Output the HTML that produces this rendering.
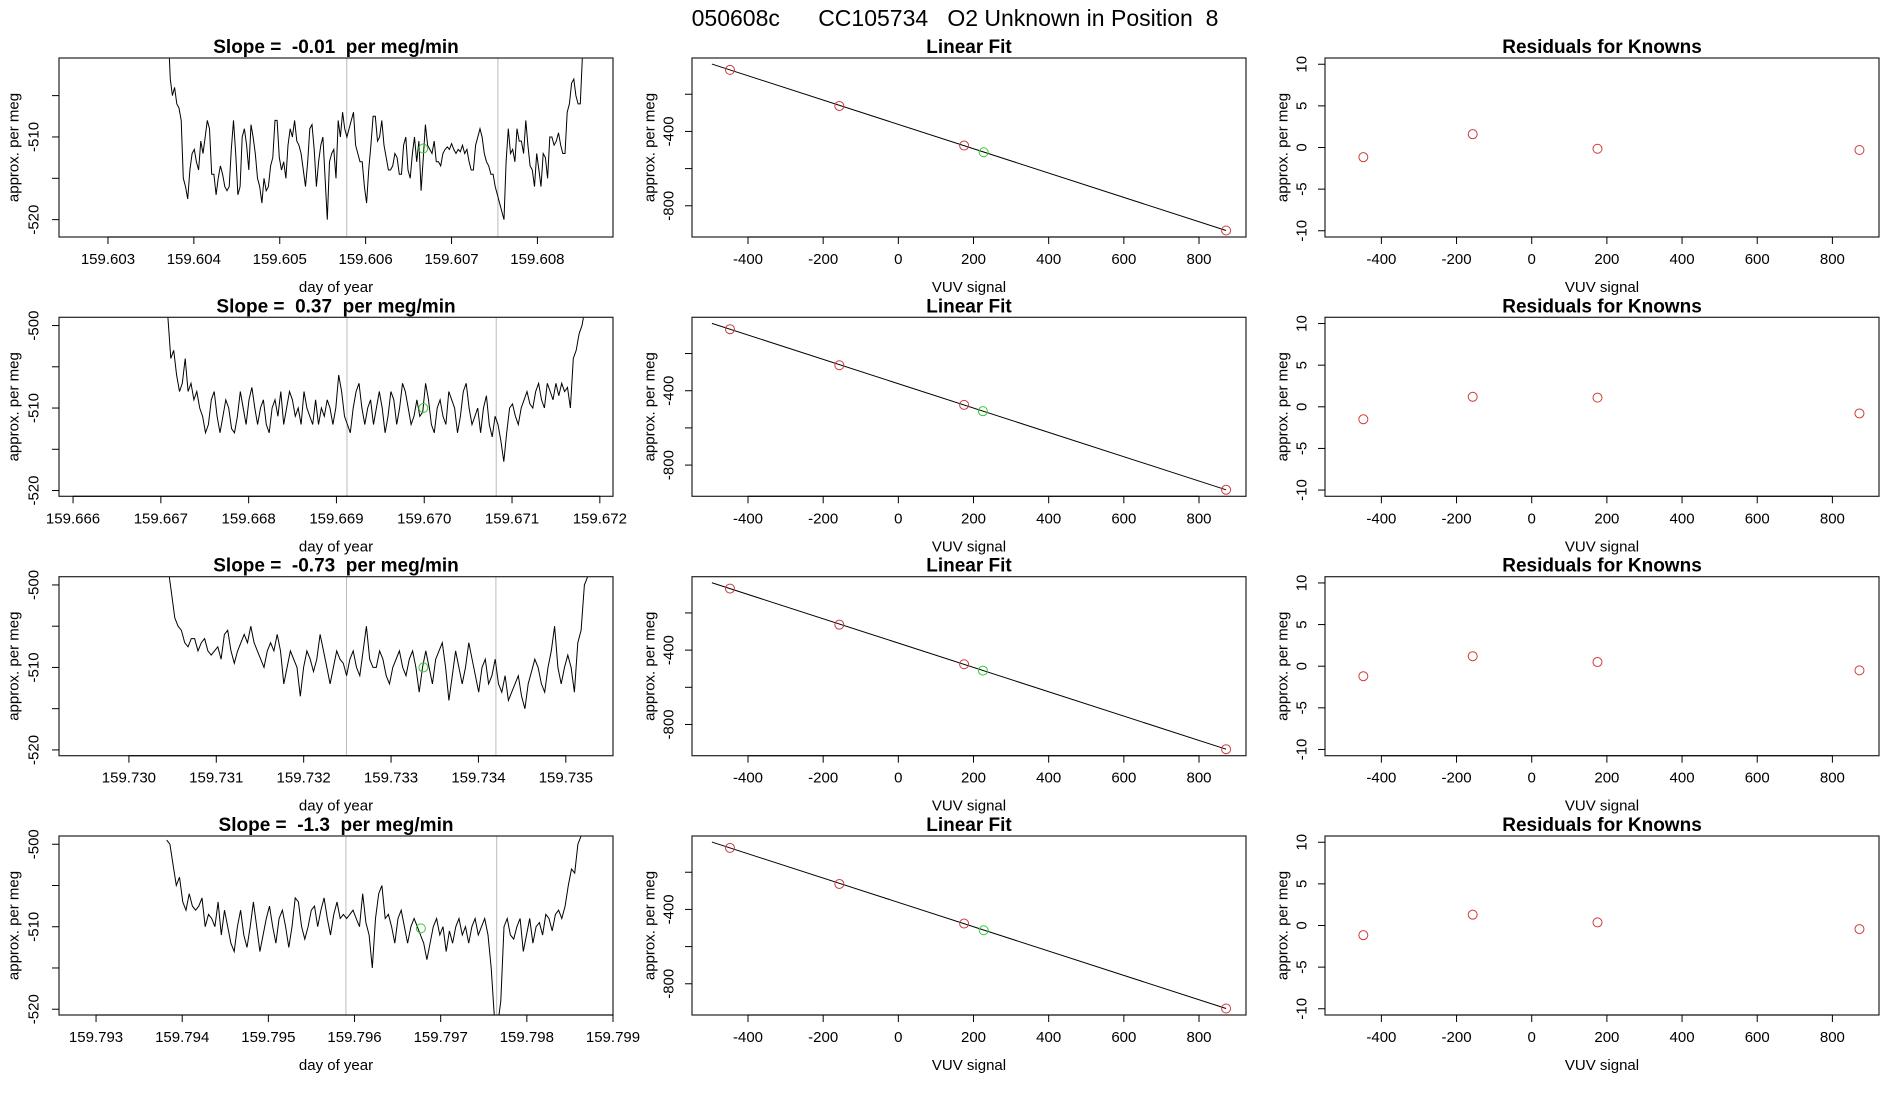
<!DOCTYPE html>
<html><head><meta charset="utf-8">
<style>
html,body{margin:0;padding:0;background:#fff;}
svg{display:block;font-family:"Liberation Sans",sans-serif;}
svg text{white-space:pre;}
</style></head>
<body>
<svg id="chart" width="1900" height="1100" viewBox="0 0 1900 1100" xmlns="http://www.w3.org/2000/svg">
<text x="955" y="26" text-anchor="middle" font-size="23" xml:space="preserve">050608c      CC105734   O2 Unknown in Position  8</text>
</svg>
<script>
// ---- data ----
const slopeLabels = ["-0.01", "0.37", "-0.73", "-1.3"];
const timeStart = [159.6037, 159.66708, 159.73045, 159.79382];
const timeEnd = [159.60855, 159.67183, 159.73525, 159.79863];
const xTickVals = [
  [159.603,159.604,159.605,159.606,159.607,159.608],
  [159.666,159.667,159.668,159.669,159.670,159.671,159.672],
  [159.730,159.731,159.732,159.733,159.734,159.735],
  [159.793,159.794,159.795,159.796,159.797,159.798,159.799]
];
const xMinTime = [159.60243, 159.66584, 159.7292, 159.79257];
const xMaxTime = [159.60888, 159.67215, 159.73554, 159.799];
const yLimTop = [-500.45, -499, -499, -499];
const yLimBot = [-522.1, -520.7, -520.7, -520.7];
const vlineTimes = [[159.60578,159.60754],[159.66912,159.67082],[159.73249,159.73420],[159.7959,159.79765]];
const greenTime = [159.60667, 159.66999, 159.73337, 159.79677];
const greenVal = [-511.4, -510, -510, -510.2];
const series1 = [-497,-503,-505,-504,-506,-506.5,-508,-515,-516,-517.5,-514,-512,-511.5,-513,-514,-510.5,-512,-510,-508,-509,-514.5,-514.5,-517,-515,-513.5,-514.5,-516,-516.5,-516,-511.5,-508,-512,-517,-516,-510,-509,-511,-514,-508.5,-510,-512,-515,-516,-518,-515,-516.5,-516,-513.5,-512.5,-508,-508,-512.5,-514,-513,-515,-511,-509,-510,-508,-510.5,-511,-512,-514,-516,-513,-509,-508.5,-511.5,-516,-513,-511,-510,-515,-520,-513,-512,-511.5,-515,-508,-510,-507,-509,-510,-509,-508,-507,-511,-512,-513,-513,-516,-518,-514,-511,-507.5,-507.5,-510.5,-510,-508,-511,-512.5,-514,-514,-513.5,-512,-512.5,-514.5,-514.5,-511,-510,-514,-515,-512,-510,-513,-510.5,-516.5,-512.5,-508.5,-511,-511.5,-512,-510.5,-513,-513,-513.5,-512,-511.5,-511.2,-511.5,-510.8,-511.5,-512,-511.5,-511.8,-511,-512,-511.5,-513,-514,-514,-511,-510,-509,-510,-512,-513,-513.5,-514.5,-514.5,-516,-517,-518,-519,-520,-513,-509,-512,-511.5,-513,-509,-510.5,-510.5,-512,-508,-511,-513.5,-514,-516,-512,-514,-516,-512,-512.5,-515,-510,-510,-511,-510.5,-509.5,-511,-512,-512,-507,-506,-503.5,-503,-505,-506,-506,-500,-497];
const series2 = [-499,-504,-503,-506,-508,-507,-504,-508,-507,-509,-508,-510,-511,-513,-512,-509,-508,-511,-513,-511,-509,-510,-512.5,-513,-511,-508,-510,-512,-509,-507.5,-510,-512,-510,-509,-512,-513,-510,-509,-511,-508,-512,-510,-508,-509,-511,-510,-512,-508,-510,-511,-512,-509,-512,-510,-511,-509,-510,-512,-510,-506,-508,-511,-512,-513,-510,-508,-507,-510,-512,-510,-509,-512,-510,-508,-510,-513,-511,-508,-509,-512,-510,-507,-508,-510,-512,-511,-509,-511,-510.5,-507,-509,-512,-513,-510,-509,-511,-512,-508,-509,-510,-513,-511,-508,-507,-510,-512,-511,-510,-513,-510,-508.5,-512,-513.5,-511,-512,-514,-516.5,-513,-510,-509.5,-511,-512,-510,-509,-508,-509.5,-510,-508,-507,-509,-510,-507,-508,-509,-507,-508.5,-507,-508,-507.5,-510,-504,-503,-501,-500,-498];
const series3 = [-498,-501,-504,-505,-505.5,-507,-507.5,-506.5,-506.5,-508,-507,-506.5,-508,-508.5,-508,-507.5,-509,-506,-505.5,-508,-509.5,-508,-507,-506,-507,-505,-507,-508,-509,-510,-508,-507,-508,-506,-508,-512,-510,-508,-509,-510,-513.5,-510,-508,-509,-510.5,-509,-506,-508,-510,-512,-510,-508,-509,-509.5,-511,-509,-508,-510,-511,-508,-505,-509,-510,-510,-508,-509,-511,-512,-510,-509,-508,-510,-511,-509,-508,-510,-513,-510,-508,-510,-512,-509,-508,-507,-510,-514,-511,-508,-510,-512,-510,-507,-509,-511,-513,-510,-509,-512,-511,-509,-512,-513,-511,-514,-513,-512,-511,-513.5,-515,-512,-510.5,-509,-510,-512,-513,-510,-508,-505,-510,-512,-510,-508.5,-510,-513,-507,-505.5,-500,-499];
const series4 = [-499.5,-500,-502.5,-505,-504,-507,-508,-506,-507.5,-508,-507.5,-506.5,-510,-508.5,-509,-510,-507,-511,-508,-510,-512,-513,-510,-508,-511,-512.5,-510,-507,-510,-513,-511,-509,-507.5,-510,-512,-509,-508,-510,-512.5,-510,-506.5,-507,-510,-511.5,-510,-508,-507.5,-510,-508,-506.5,-509,-511,-508.5,-507,-509,-508.5,-509,-508.5,-508,-509,-510,-506,-509.5,-511,-515,-509,-506,-505,-509,-508.5,-510,-512,-509,-508,-510,-512,-510,-509,-510,-511,-512,-514,-512,-510,-509,-511,-510,-513,-510.5,-512,-510,-509,-511,-510,-512,-510,-509,-511,-510,-509,-511,-515,-521,-522,-519,-510,-509,-511,-511.5,-510,-509,-513,-511,-509,-512,-510,-509.5,-511,-508.5,-509,-510.5,-508.5,-508,-509,-507.5,-505,-503,-503.5,-500,-499];
const knownSignal = [-448, -157, 175, 872];
const knownValue = [-69, -263, -476, -933];
const unknownSignal = [227, 225, 225, 227];
const unknownValue = [-512, -510, -510, -512];
const fitLineStart = [-496, -496, -496, -496];
const residuals = [
  [-1.16, 1.6, -0.15, -0.3],
  [-1.5, 1.2, 1.1, -0.8],
  [-1.2, 1.2, 0.5, -0.5],
  [-1.16, 1.3, 0.37, -0.43]
];
const fitYTicks = [-200, -400, -600, -800];
const fitYLabels = ["", "-400", "", "-800"];
const fitXTicks = [-400, -200, 0, 200, 400, 600, 800];
const residYTicks = [10, 5, 0, -5, -10];

// ---- layout ----
const NS = "http://www.w3.org/2000/svg";
const svg = document.getElementById("chart");
const rowTop = [58, 317.3, 576.7, 836];
const boxH = 179;
const colL = [59, 692, 1325];
const boxW = 554;
const allSeries = [series1, series2, series3, series4];

function mk(tag, attrs, parent) {
  const e = document.createElementNS(NS, tag);
  for (const k in attrs) e.setAttribute(k, attrs[k]);
  (parent || svg).appendChild(e);
  return e;
}
function txt(s, x, y, size, opts, parent) {
  const e = mk("text", Object.assign({x: x, y: y, "font-size": size, "text-anchor": "middle"}, opts || {}), parent);
  e.textContent = s;
  return e;
}

for (let r = 0; r < 4; r++) {
  const top = rowTop[r], bot = top + boxH;
  {
    const L = colL[0], R = L + boxW;
    const g = mk("g", {});
    
    
    const xs = t => L + (t - xMinTime[r]) / (xMaxTime[r] - xMinTime[r]) * boxW;
    const ys = v => top + (v - yLimTop[r]) / (yLimBot[r] - yLimTop[r]) * boxH;
    const cid = "clip" + r;
    const cp = mk("clipPath", {id: cid}, g);
    mk("rect", {x: L, y: top, width: boxW, height: boxH}, cp);
    vlineTimes[r].forEach(t => {
      const l = mk("line", {x1: xs(t), x2: xs(t), y1: top, y2: bot, stroke: "#bbb", "stroke-width": 1}, g);
      
      
    });
    const s = allSeries[r];
    const n = s.length;
    const pts = s.map((v, i) => xs(timeStart[r] + (timeEnd[r] - timeStart[r]) * i / (n - 1)).toFixed(1) + "," + ys(v).toFixed(1)).join(" ");
    const pl = mk("polyline", {points: pts, fill: "none", stroke: "#000", "stroke-width": 1, "clip-path": "url(#" + cid + ")"}, g);
    
    
    const gc = mk("circle", {cx: xs(greenTime[r]), cy: ys(greenVal[r]), r: 4.5, fill: "none", stroke: "#3c3", "stroke-width": 1}, g);
    
    
    const bx = mk("rect", {x: L, y: top, width: boxW, height: boxH, fill: "none", stroke: "#222", "stroke-width": 1.2}, g);
    
    
    for (let v = -500; v >= -520; v -= 5) {
      const y = ys(v);
      if (y < top - 0.5 || y > bot + 0.5) continue;
      mk("line", {x1: L - 7, x2: L, y1: y, y2: y, stroke: "#000"}, g);
      if (v % 10 === 0) {
        const t = txt(String(v), 34, y, 15, {transform: "rotate(-90 34 " + y + ")", "dominant-baseline": "central"}, g);
        
        
      }
    }
    const tv = xTickVals[r];
    mk("line", {x1: xs(tv[0]), x2: xs(tv[tv.length - 1]), y1: bot, y2: bot, stroke: "#000"}, g);
    tv.forEach(t => {
      const x = xs(t);
      mk("line", {x1: x, x2: x, y1: bot, y2: bot + 7, stroke: "#000"}, g);
      const lb = txt(t.toFixed(3), x, bot + 27, 15, {}, g);
      
      
    });
    const xl = txt("day of year", (L + R) / 2, bot + 55, 15, {}, g);
    
    
    const yl = txt("approx. per meg", 14, (top + bot) / 2, 15, {transform: "rotate(-90 14 " + ((top + bot) / 2) + ")", "dominant-baseline": "central"}, g);
    
    
    const tt = txt("Slope =  " + slopeLabels[r] + "  per meg/min", (L + R) / 2, top - 5, 19, {"font-weight": "bold"}, g);
    
    
  }
  {
    const L = colL[1], R = L + boxW;
    const g = mk("g", {});
    
    
    const xs = v => L + (v + 549) / (925 + 549) * boxW;
    const ys = v => top + (v + 5) / (-968 + 5) * boxH;
    const x0 = knownSignal[0], y0 = knownValue[0], x1 = knownSignal[3], y1 = knownValue[3];
    const sl = (y1 - y0) / (x1 - x0);
    const fs = fitLineStart[r];
    const ln = mk("line", {x1: xs(fs), y1: ys(y0 + (fs - x0) * sl), x2: xs(x1), y2: ys(y1), stroke: "#000", "stroke-width": 1}, g);
    
    
    knownSignal.forEach((sv, i) => {
      const c = mk("circle", {cx: xs(sv), cy: ys(knownValue[i]), r: 4.5, fill: "none", stroke: "#cc3b3b", "stroke-width": 1}, g);
      
      
    });
    const gc = mk("circle", {cx: xs(unknownSignal[r]), cy: ys(unknownValue[r]), r: 4.5, fill: "none", stroke: "#3c3", "stroke-width": 1}, g);
    
    
    const bx = mk("rect", {x: L, y: top, width: boxW, height: boxH, fill: "none", stroke: "#222", "stroke-width": 1.2}, g);
    
    
    fitYTicks.forEach((v, i) => {
      const y = ys(v);
      mk("line", {x1: L - 7, x2: L, y1: y, y2: y, stroke: "#000"}, g);
      if (fitYLabels[i]) {
        const t = txt(fitYLabels[i], L - 23, y, 15, {transform: "rotate(-90 " + (L - 23) + " " + y + ")", "dominant-baseline": "central"}, g);
        
        
      }
    });
    mk("line", {x1: xs(fitXTicks[0]), x2: xs(fitXTicks[fitXTicks.length - 1]), y1: bot, y2: bot, stroke: "#000"}, g);
    fitXTicks.forEach(v => {
      const x = xs(v);
      mk("line", {x1: x, x2: x, y1: bot, y2: bot + 7, stroke: "#000"}, g);
      const lb = txt(String(v), x, bot + 27, 15, {}, g);
      
      
    });
    const xl = txt("VUV signal", (L + R) / 2, bot + 55, 15, {}, g);
    
    
    const yx = L - 42;
    const yl = txt("approx. per meg", yx, (top + bot) / 2, 15, {transform: "rotate(-90 " + yx + " " + ((top + bot) / 2) + ")", "dominant-baseline": "central"}, g);
    
    
    const tt = txt("Linear Fit", (L + R) / 2, top - 5, 19, {"font-weight": "bold"}, g);
    
    
  }
  {
    const L = colL[2], R = L + boxW;
    const g = mk("g", {});
    
    
    const xs = v => L + (v + 550) / (924 + 550) * boxW;
    const ys = v => top + (10.75 - v) / 21.5 * boxH;
    knownSignal.forEach((sv, i) => {
      const c = mk("circle", {cx: xs(sv), cy: ys(residuals[r][i]), r: 4.5, fill: "none", stroke: "#cc3b3b", "stroke-width": 1}, g);
      
      
    });
    const bx = mk("rect", {x: L, y: top, width: boxW, height: boxH, fill: "none", stroke: "#222", "stroke-width": 1.2}, g);
    
    
    residYTicks.forEach(v => {
      const y = ys(v);
      mk("line", {x1: L - 7, x2: L, y1: y, y2: y, stroke: "#000"}, g);
      const t = txt(String(v), L - 23, y, 15, {transform: "rotate(-90 " + (L - 23) + " " + y + ")", "dominant-baseline": "central"}, g);
      
      
    });
    mk("line", {x1: xs(fitXTicks[0]), x2: xs(fitXTicks[fitXTicks.length - 1]), y1: bot, y2: bot, stroke: "#000"}, g);
    fitXTicks.forEach(v => {
      const x = xs(v);
      mk("line", {x1: x, x2: x, y1: bot, y2: bot + 7, stroke: "#000"}, g);
      const lb = txt(String(v), x, bot + 27, 15, {}, g);
      
      
    });
    const xl = txt("VUV signal", (L + R) / 2, bot + 55, 15, {}, g);
    
    
    const yx = L - 42;
    const yl = txt("approx. per meg", yx, (top + bot) / 2, 15, {transform: "rotate(-90 " + yx + " " + ((top + bot) / 2) + ")", "dominant-baseline": "central"}, g);
    
    
    const tt = txt("Residuals for Knowns", (L + R) / 2, top - 5, 19, {"font-weight": "bold"}, g);
    
    
  }
}
</script>
</body></html>
